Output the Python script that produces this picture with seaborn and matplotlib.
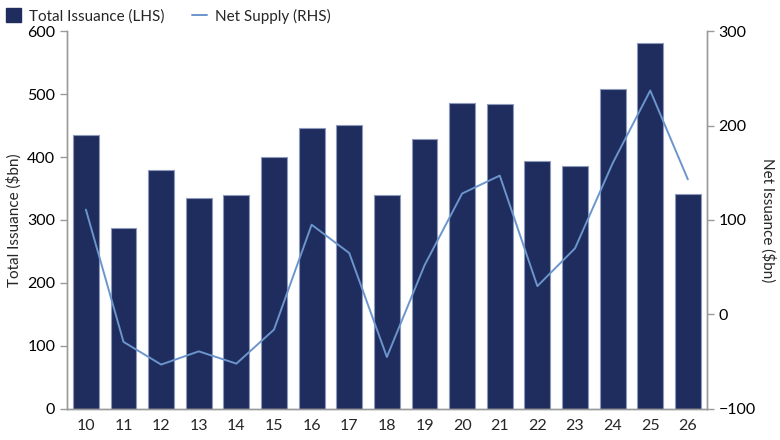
import numpy as np
import pandas as pd
import matplotlib
matplotlib.use("Agg")
import matplotlib.pyplot as plt
import seaborn as sns
from matplotlib.patches import Patch
from matplotlib.lines import Line2D

years = ['10', '11', '12', '13', '14', '15', '16', '17', '18',
         '19', '20', '21', '22', '23', '24', '25', '26']
total_issuance = [435, 288, 380, 335, 340, 400, 446, 451, 340,
                  428, 486, 484, 393, 386, 508, 581, 342]
net_supply = [111, -29, -53, -39, -52, -16, 95, 65, -45,
              52, 128, 147, 30, 70, 160, 237, 143]

BAR_COLOR = '#1f2d5e'
LINE_COLOR = '#6b95cc'
AXIS_GREY = '#9a9a9a'

sns.set_style('white')
plt.rcParams['font.family'] = ['Lato', 'DejaVu Sans']

df = pd.DataFrame({'year': years, 'total': total_issuance, 'net': net_supply})
df['pos'] = np.arange(len(df))

fig = plt.figure(figsize=(7.8, 4.4), dpi=100)
ax = fig.add_axes([0.086, 0.0705, 0.82, 0.859])

sns.barplot(data=df, x='year', y='total', color=BAR_COLOR, width=0.69,
            edgecolor='#8d9abb', linewidth=0.8, saturation=1, ax=ax)
ax.set_xlim(-0.5, len(years) - 0.5)
ax.set_ylim(0, 600)
ax.set_yticks([0, 100, 200, 300, 400, 500, 600])
ax.set_xlabel('')
ax.set_ylabel('Total Issuance ($bn)', fontsize=11, labelpad=4)

ax2 = ax.twinx()
sns.lineplot(data=df, x='pos', y='net', color=LINE_COLOR, linewidth=1.4, ax=ax2)
ax2.set_ylim(-100, 300)
ax2.set_yticks([-100, 0, 100, 200, 300])
ax2.set_xlim(-0.5, len(years) - 0.5)
ax2.set_ylabel('Net Issuance ($bn)', fontsize=11, rotation=270, labelpad=14)
ax2.set_xlabel('')

for a in (ax, ax2):
    a.spines['top'].set_visible(False)
    for s in ('left', 'right', 'bottom'):
        a.spines[s].set_color(AXIS_GREY)
        a.spines[s].set_linewidth(1.0)
    a.tick_params(axis='y', colors=AXIS_GREY, labelcolor='black',
                  labelsize=11.5, length=5, width=1, direction='out')

ax.set_xticks(np.arange(len(years)))
ax.set_xticklabels(years)
ax.set_xticks(np.arange(-0.5, len(years)), minor=True)
ax.tick_params(axis='x', which='major', length=0, labelsize=11.5, pad=7)
ax.tick_params(axis='x', which='minor', length=5, width=1, colors=AXIS_GREY)

handles = [Patch(facecolor=BAR_COLOR, edgecolor=BAR_COLOR),
           Line2D([0], [0], color=LINE_COLOR, linewidth=1.4)]
fig.legend(handles, ['Total Issuance (LHS)', 'Net Supply (RHS)'],
           loc='upper left', bbox_to_anchor=(-0.01, 1.012), ncol=2, frameon=False,
           fontsize=11, handlelength=1.0, handleheight=1.0, columnspacing=1.8,
           handletextpad=0.5)

fig.savefig('out.png', dpi=100)
